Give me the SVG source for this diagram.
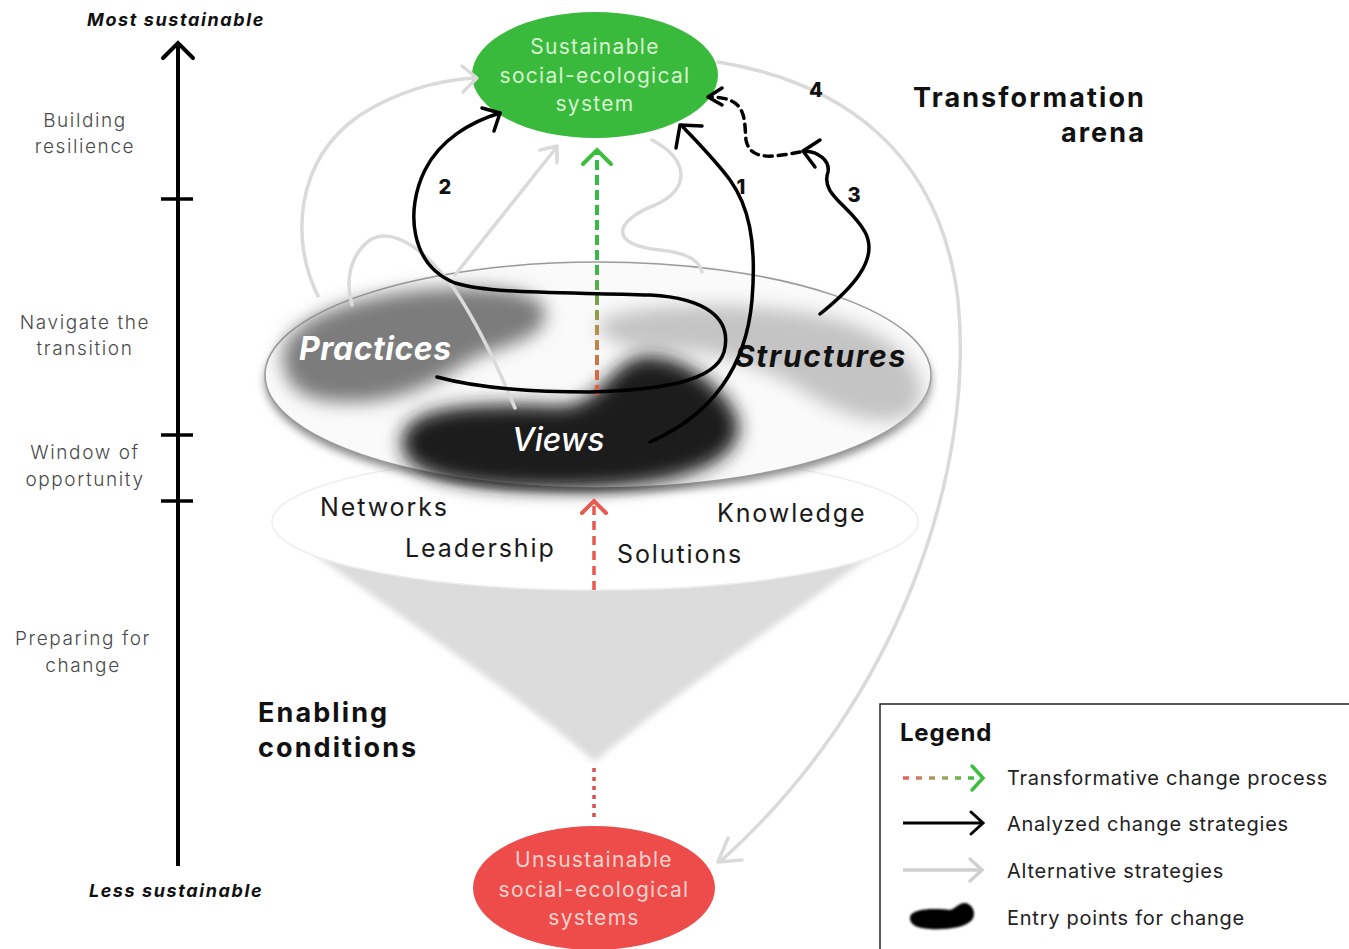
<svg xmlns="http://www.w3.org/2000/svg" width="1349" height="949" viewBox="0 0 1349 949">
<defs>
<style>
.lbl{font-family:Inter,"Liberation Sans",sans-serif;font-size:19px;fill:#4a4a4a;text-anchor:middle;font-weight:300;letter-spacing:1.6px}
.axis{font-family:Inter,"Liberation Sans",sans-serif;font-size:18px;font-weight:700;font-style:italic;fill:#111;text-anchor:middle;letter-spacing:1.6px}
.cond{font-family:Inter,"Liberation Sans",sans-serif;font-size:25px;fill:#1a1a1a;letter-spacing:1.9px}
.head{font-family:Inter,"Liberation Sans",sans-serif;font-size:27px;font-weight:700;fill:#111;letter-spacing:2.1px}
.num{font-family:Inter,"Liberation Sans",sans-serif;font-size:20px;font-weight:800;fill:#111;text-anchor:middle}
.leg{font-family:Inter,"Liberation Sans",sans-serif;font-size:20px;fill:#222;letter-spacing:0.75px}
.sys{font-family:Inter,"Liberation Sans",sans-serif;font-size:21px;text-anchor:middle;letter-spacing:1.3px}
.blk{fill:none;stroke:#000;stroke-width:3.5;stroke-linecap:round;stroke-linejoin:round}
.gry{fill:none;stroke:#dadada;stroke-width:3.5;stroke-linecap:round;stroke-linejoin:round}
</style>
<filter id="blur8" x="-30%" y="-50%" width="160%" height="200%"><feGaussianBlur stdDeviation="9"/></filter>
<filter id="blur4" x="-30%" y="-50%" width="160%" height="200%"><feGaussianBlur stdDeviation="4"/></filter>
<filter id="soft" x="-10%" y="-10%" width="120%" height="120%"><feGaussianBlur stdDeviation="0.8"/></filter>
<filter id="cblur" x="-10%" y="-10%" width="120%" height="120%"><feGaussianBlur stdDeviation="3"/></filter>
<linearGradient id="tcp" x1="0" y1="395" x2="0" y2="150" gradientUnits="userSpaceOnUse">
<stop offset="0" stop-color="#e0583e"/><stop offset="0.25" stop-color="#b9904a"/><stop offset="0.5" stop-color="#3cb84a"/><stop offset="1" stop-color="#2fbf3f"/>
</linearGradient>
<linearGradient id="legtcp" x1="903" y1="0" x2="975" y2="0" gradientUnits="userSpaceOnUse">
<stop offset="0" stop-color="#e86060"/><stop offset="0.5" stop-color="#a8a060"/><stop offset="1" stop-color="#3cbf3c"/>
</linearGradient>
</defs>
<rect width="1349" height="949" fill="#fff"/>

<!-- Left axis -->
<g id="axis">
<line x1="178" y1="44" x2="178" y2="866" stroke="#000" stroke-width="4"/>
<polyline points="163,58 178,43 193,58" fill="none" stroke="#000" stroke-width="4" stroke-linecap="round"/>
<line x1="161" y1="199" x2="193" y2="199" stroke="#000" stroke-width="3.5"/>
<line x1="161" y1="435" x2="193" y2="435" stroke="#000" stroke-width="3.5"/>
<line x1="161" y1="501" x2="193" y2="501" stroke="#000" stroke-width="3.5"/>
<text class="axis" x="176" y="26">Most sustainable</text>
<text class="axis" x="176" y="897">Less sustainable</text>
<text class="lbl" x="85" y="127">Building</text>
<text class="lbl" x="85" y="153">resilience</text>
<text class="lbl" x="85" y="329">Navigate the</text>
<text class="lbl" x="85" y="355">transition</text>
<text class="lbl" x="85" y="459">Window of</text>
<text class="lbl" x="85" y="486">opportunity</text>
<text class="lbl" x="83" y="645">Preparing for</text>
<text class="lbl" x="83" y="672">change</text>
</g>

<!-- Enabling conditions cone -->
<g id="cone-node">
<path d="M282,530 C360,590 500,680 595,762 C690,680 830,590 912,524 Z" fill="#dcdcdc" filter="url(#cblur)"/>
<ellipse cx="595" cy="522" rx="323" ry="68" fill="#fff" stroke="#eeeeee" stroke-width="1.5"/>
<text class="cond" x="320" y="516">Networks</text>
<text class="cond" x="405" y="557">Leadership</text>
<text class="cond" x="717" y="522">Knowledge</text>
<text class="cond" x="617" y="563">Solutions</text>
<text class="head" x="258" y="722">Enabling</text>
<text class="head" x="258" y="757">conditions</text>
</g>

<!-- Transformation arena disk -->
<g id="arena">
<ellipse cx="598" cy="381" rx="333" ry="112" fill="#8a8a8a" filter="url(#blur4)"/>
<ellipse cx="598" cy="375" rx="333" ry="113" fill="#fafafa" stroke="#9a9a9a" stroke-width="1.5"/>
<path d="M285,370 C270,330 330,300 420,290 C490,284 540,290 545,310 C550,340 500,345 470,360 C440,380 400,405 340,402 C300,400 288,385 285,370 Z" fill="#7c7c7c" filter="url(#blur8)"/>
<path d="M600,320 C650,300 760,300 840,320 C905,340 935,380 915,410 C895,430 850,420 810,395 C770,370 720,350 670,350 C620,350 590,335 600,320 Z" fill="#c4c4c4" filter="url(#blur8)"/>
<path d="M402,445 C400,405 470,402 560,406 C600,404 605,372 635,358 C675,348 725,385 738,420 C748,468 660,490 560,489 C460,490 404,475 402,445 Z" fill="#1e1e1e" filter="url(#blur8)"/>
<text x="299" y="360" font-family="Inter,'Liberation Sans',sans-serif" font-size="32" font-weight="700" font-style="italic" fill="#fff" letter-spacing="0.5">Practices</text>
<text x="735" y="367" font-family="Inter,'Liberation Sans',sans-serif" font-size="30" font-weight="700" font-style="italic" fill="#111" letter-spacing="1.7">Structures</text>
<text x="512" y="451" font-family="Inter,'Liberation Sans',sans-serif" font-size="32" font-weight="500" font-style="italic" fill="#fff">Views</text>
<text class="head" x="1146" y="107" text-anchor="end" font-size="26" letter-spacing="2.3">Transformation</text>
<text class="head" x="1146" y="142" text-anchor="end" font-size="26" letter-spacing="2.3">arena</text>
</g>

<!-- Sustainable system -->
<g id="sustainable">
<ellipse cx="595" cy="75" rx="123" ry="63" fill="#3aba3c"/>
<text class="sys" x="595" y="54" fill="#d6f4d0">Sustainable</text>
<text class="sys" x="595" y="83" fill="#d6f4d0">social-ecological</text>
<text class="sys" x="595" y="111" fill="#d6f4d0">system</text>
</g>

<!-- Unsustainable systems -->
<g id="unsustainable">
<ellipse cx="594" cy="888" rx="121" ry="62" fill="#ee4b4b"/>
<text class="sys" x="594" y="867" fill="#ffd2cc">Unsustainable</text>
<text class="sys" x="594" y="897" fill="#ffd2cc">social-ecological</text>
<text class="sys" x="594" y="925" fill="#ffd2cc">systems</text>
</g>

<!-- Connectors -->
<g id="connectors">
<!-- alternative strategies (gray) -->
<path class="gry" d="M318,296 C290,240 295,160 360,115 C400,90 440,80 475,78"/>
<polyline class="gry" points="462,66 477,78 463,92"/>
<path class="gry" d="M515,408 C495,360 475,320 455,290 C430,255 395,225 370,240 C350,255 345,280 352,305" stroke-width="3"/>
<path class="gry" d="M455,275 L556,148" stroke-width="3"/>
<polyline class="gry" points="540,150 557,146 557,163"/>
<path class="gry" d="M652,140 C690,160 690,190 655,205 C612,222 610,245 660,250 C690,253 700,262 702,272" stroke-width="3"/>
<path class="gry" d="M718,62 C840,82 940,150 958,300 C975,470 900,700 722,860"/>
<polyline class="gry" points="728,838 718,862 742,860"/>

<!-- transformative change process -->
<line x1="597" y1="395" x2="597" y2="153" stroke="url(#tcp)" stroke-width="4" stroke-dasharray="10 5"/>
<polyline points="583,164 597,150 611,164" fill="none" stroke="#3cbf3c" stroke-width="4" stroke-linecap="round"/>
<line x1="594" y1="590" x2="594" y2="503" stroke="#e85a50" stroke-width="3.5" stroke-dasharray="9 6"/>
<polyline points="582,513 594,501 606,513" fill="none" stroke="#e85a50" stroke-width="4" stroke-linecap="round"/>
<line x1="594" y1="768" x2="594" y2="822" stroke="#d85050" stroke-width="3.5" stroke-dasharray="4 5"/>

<!-- analyzed strategies -->
<path class="blk" d="M437,377 C470,386 520,392 590,392 C660,390 715,382 724,352 C733,318 705,298 650,295 C560,292 490,294 455,283 C410,265 405,210 425,170 C440,140 470,122 500,113"/>
<polyline class="blk" points="482,108 500,113 494,131"/>
<path class="blk" d="M650,442 C700,420 745,380 752,300 C757,240 748,205 730,180 C715,160 700,145 683,127"/>
<polyline class="blk" points="676,148 680,125 702,126"/>
<path class="blk" d="M820,314 C850,290 880,260 865,232 C850,205 820,195 828,172 C830,160 818,152 805,151"/>
<polyline class="blk" points="820,140 803,151 815,167"/>
<path class="blk" d="M800,152 C770,158 750,160 746,140 C744,120 748,98 712,97" stroke-dasharray="8 6" stroke-width="3"/>
<polyline class="blk" points="722,88 708,97 722,105" stroke-width="3.5"/>
<text class="num" x="741" y="194">1</text>
<text class="num" x="445" y="194">2</text>
<text class="num" x="854" y="202">3</text>
<text class="num" x="816" y="97">4</text>
</g>

<!-- Legend -->
<g id="legend">
<rect x="880" y="704" width="475" height="260" fill="#fff" stroke="#222" stroke-width="1.5"/>
<text x="900" y="741" font-family="Inter,'Liberation Sans',sans-serif" font-size="24" font-weight="700" fill="#111" letter-spacing="0.8">Legend</text>
<line x1="903" y1="778" x2="975" y2="778" stroke="url(#legtcp)" stroke-width="3.5" stroke-dasharray="6 7"/>
<polyline points="972,766 983,778 972,790" fill="none" stroke="#3cbf3c" stroke-width="3.5" stroke-linecap="round"/>
<text class="leg" x="1007" y="785">Transformative change process</text>
<line x1="903" y1="823" x2="982" y2="823" stroke="#000" stroke-width="3"/>
<polyline points="971,812 983,823 971,834" fill="none" stroke="#000" stroke-width="3" stroke-linecap="round"/>
<text class="leg" x="1007" y="831">Analyzed change strategies</text>
<line x1="903" y1="870" x2="980" y2="870" stroke="#d0d0d0" stroke-width="3.5"/>
<polyline points="970,859 982,870 970,881" fill="none" stroke="#d0d0d0" stroke-width="3.5" stroke-linecap="round"/>
<text class="leg" x="1007" y="878">Alternative strategies</text>
<path d="M910,918 C910,908 935,908 950,910 C956,908 960,902 966,903 C974,906 976,914 972,920 C965,928 945,930 930,929 C915,928 910,924 910,918 Z" fill="#000" filter="url(#soft)"/>
<text class="leg" x="1007" y="925">Entry points for change</text>
</g>
</svg>
